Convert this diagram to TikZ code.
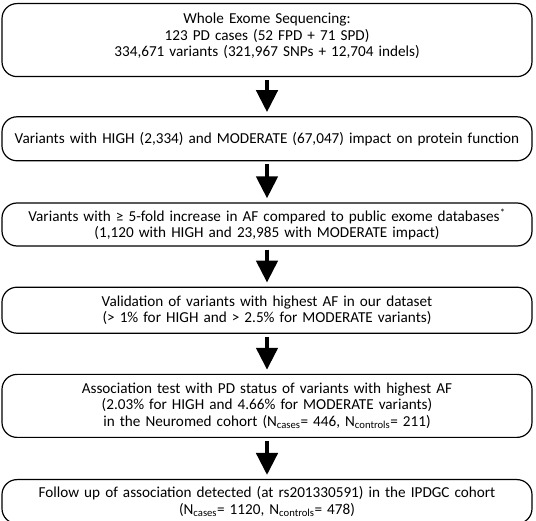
\documentclass[tikz,border=0pt]{standalone}
\usepackage{fontspec}
\setmainfont{Carlito}
\usetikzlibrary{arrows.meta,positioning}

\begin{document}
\begin{tikzpicture}[
    stage/.style={rectangle,draw,rounded corners=15pt,line width=1.2pt,text width=522pt,inner xsep=4pt,align=center,minimum height=44pt,font=\fontsize{15.2}{16.6}\selectfont},
    flow/.style={line width=4.5pt,-{Triangle[width=21pt,length=22pt]},shorten <=3pt,shorten >=4pt}
  ]
    \useasboundingbox (0,0) rectangle (536pt,-521pt);

    % Stages
    \node[stage, minimum height=73pt, anchor=north] (wes) at (267pt,-3pt) {Whole Exome Sequencing:\\ 123 PD cases (52 FPD + 71 SPD)\\ 334,671 variants (321,967 SNPs + 12,704 indels)\\[-6pt]~};
    \node[stage, below=39pt of wes] (impact) {Variants with HIGH (2,334) and MODERATE (67,047) impact on protein function};
    \node[stage, minimum height=43pt, below=41pt of impact] (fold) {Variants with ≥ 5-fold increase in AF compared to public exome databases\textsuperscript{*}\\ (1,120 with HIGH and 23,985 with MODERATE impact)};
    \node[stage, minimum height=46pt, below=40pt of fold] (valid) {Validation of variants with highest AF in our dataset\\ (> 1\% for HIGH and > 2.5\% for MODERATE variants)};
    \node[stage, minimum height=63pt, below=40pt of valid] (assoc) {Association test with PD status of variants with highest AF\\ (2.03\% for HIGH and 4.66\% for MODERATE variants)\\ in the Neuromed cohort (N\textsubscript{cases}= 446, N\textsubscript{controls}= 211)};
    \node[stage, below=41pt of assoc] (follow) {Follow up of association detected (at rs201330591) in the IPDGC cohort\\ (N\textsubscript{cases}= 1120, N\textsubscript{controls}= 478)};

    % Arrows
    \draw[flow] (wes) -- (impact);
    \draw[flow] (impact) -- (fold);
    \draw[flow] (fold) -- (valid);
    \draw[flow] (valid) -- (assoc);
    \draw[flow] (assoc) -- (follow);
\end{tikzpicture}
\end{document}
